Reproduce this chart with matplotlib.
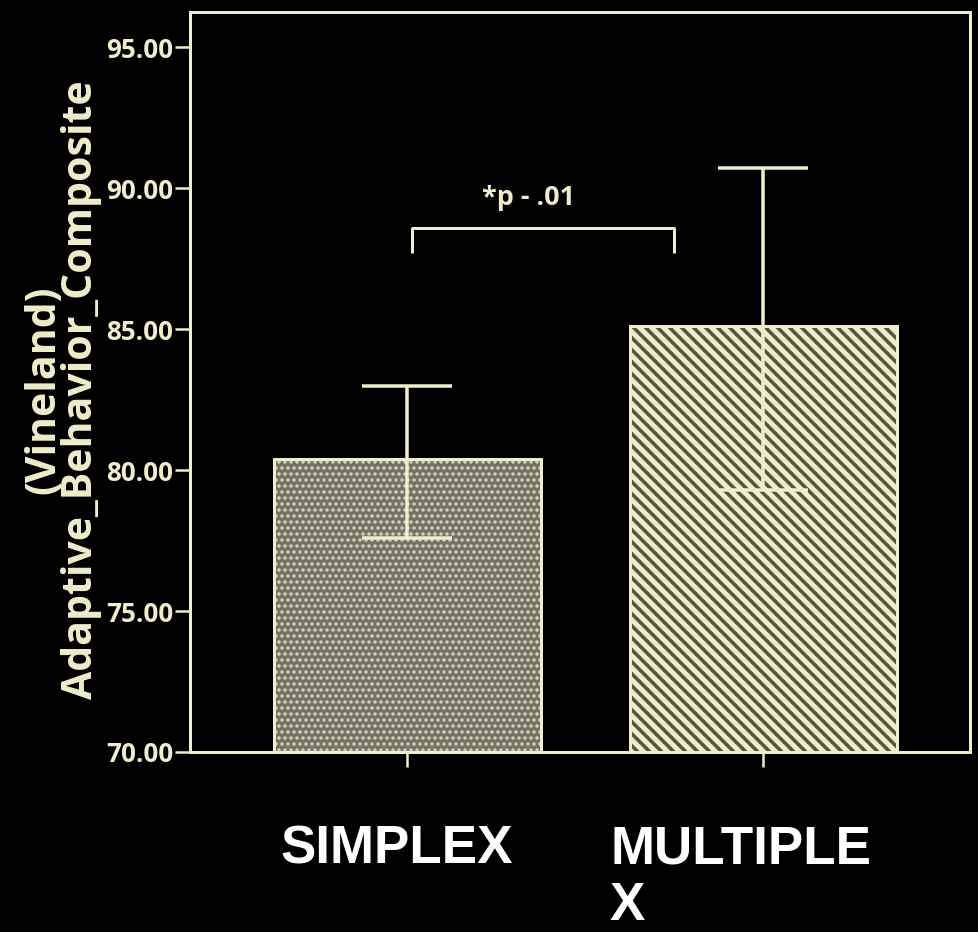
import numpy as np
import matplotlib
matplotlib.use("Agg")
import matplotlib.pyplot as plt

# values
groups = ["SIMPLEX", "MULTIPLEX"]
means = [80.4, 85.1]
err_low = [77.6, 79.3]
err_high = [83.0, 90.7]
yticks = [70, 75, 80, 85, 90, 95]
sig_text = "*p - .01"

cream = "#efedcb"
DPI = 72

fig = plt.figure(figsize=(978 / DPI, 932 / DPI), dpi=DPI, facecolor="black")
ax = fig.add_axes([190 / 978, 1 - 752 / 932, 780 / 978, 740 / 932], facecolor="black")

x = np.arange(len(groups))
plt.rcParams['hatch.linewidth'] = 2.2
ax.bar(x[0], means[0] - 70, bottom=70, width=0.75, facecolor="#737264",
       edgecolor="#dcdac0", hatch="..", linewidth=3, zorder=2)
plt.rcParams['hatch.linewidth'] = 5.0
ax.bar(x[1], means[1] - 70, bottom=70, width=0.75, facecolor="#55543f",
       edgecolor=cream, hatch="\\\\", linewidth=3, zorder=2)
# redraw outlines in the cream colour
for i in range(len(groups)):
    ax.bar(x[i], means[i] - 70, bottom=70, width=0.75, fill=False,
           edgecolor=cream, linewidth=3, zorder=2.5)

yerr = np.array([np.subtract(means, err_low), np.subtract(err_high, means)])
ax.errorbar(x, means, yerr=yerr, fmt="none", ecolor=cream, elinewidth=3.5,
            capsize=45, capthick=3.5, zorder=3)

# significance bracket
bx = [0.014, 0.014, 0.75, 0.75]
by = [87.7, 88.6, 88.6, 87.7]
ax.plot(bx, by, color=cream, lw=3, solid_capstyle="butt", zorder=3)
ax.text(0.34, 89.2, sig_text, color=cream, fontsize=27, fontweight="bold",
        family="Open Sans", ha="center", va="bottom")

ax.set_xlim(-0.61, 1.58)
ax.set_ylim(70, 96.25)
ax.set_yticks(yticks)
ax.set_yticklabels(["%.2f" % v for v in yticks])
ax.set_xticks(x)
ax.set_xticklabels([])
for s in ax.spines.values():
    s.set_color(cream)
    s.set_linewidth(3)
ax.tick_params(axis="both", colors=cream, length=15, width=2.5, direction="out")
ax.tick_params(axis="y", labelsize=26, pad=2)
for lab in ax.get_yticklabels():
    lab.set_family("Open Sans")
    lab.set_fontweight("bold")

fig.text(63 / 978, 1 - 390 / 932, "(Vineland)\nAdaptive_Behavior_Composite",
         rotation=90, color=cream, fontsize=41, fontweight="bold",
         family="Open Sans", ha="center", va="center", multialignment="center",
         linespacing=0.9)

fig.text(280 / 978, 1 - 864 / 932, "SIMPLEX", color="white", fontsize=53,
         fontweight="bold", family="Liberation Sans", ha="left", va="baseline")
fig.text(610 / 978, 1 - 864 / 932, "MULTIPLE", color="white", fontsize=53,
         fontweight="bold", family="Liberation Sans", ha="left", va="baseline")
fig.text(610 / 978, 1 - 920 / 932, "X", color="white", fontsize=53,
         fontweight="bold", family="Liberation Sans", ha="left", va="baseline")

fig.savefig("out.png", dpi=DPI, facecolor="black")
